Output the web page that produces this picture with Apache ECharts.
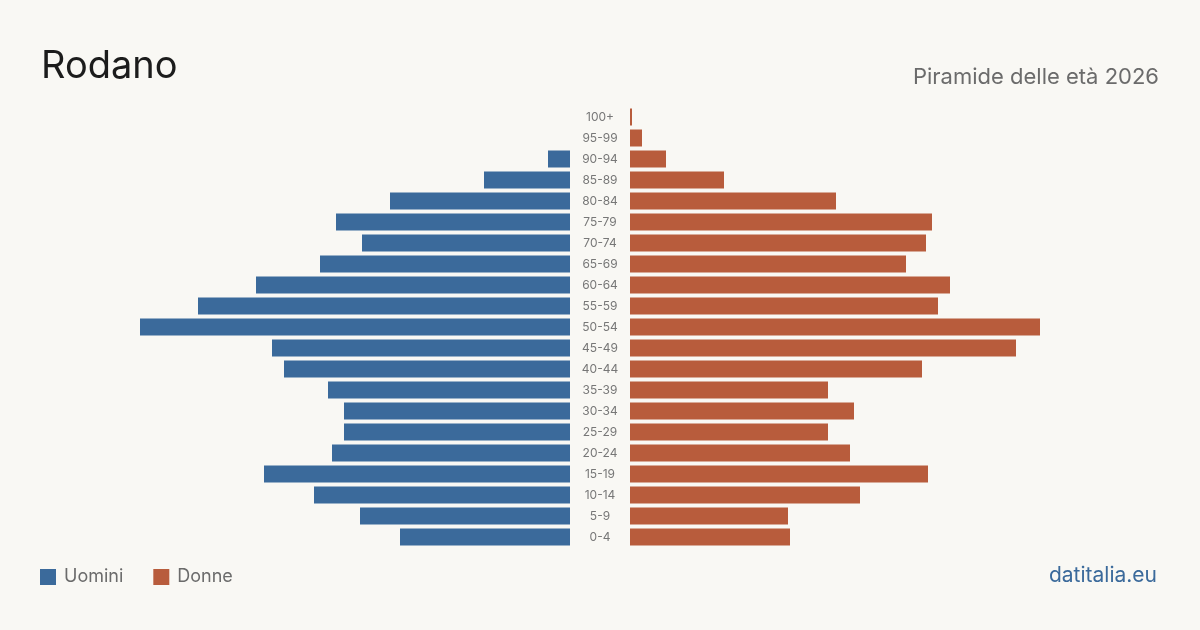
<!DOCTYPE html>
<html><head><meta charset="utf-8">
<script src="https://cdn.jsdelivr.net/npm/echarts@6/dist/echarts.min.js"></script>
<style>html,body{margin:0;padding:0;background:#f9f8f4}#c{width:1200px;height:630px}</style>
</head><body><div id="c"></div>
<script>
const ages = ["0-4","5-9","10-14","15-19","20-24","25-29","30-34","35-39","40-44","45-49","50-54","55-59","60-64","65-69","70-74","75-79","80-84","85-89","90-94","95-99","100+"];
const uomini = [85,105,128,153,119,113,113,121,143,149,215,186,157,125,104,117,90,43,11,0,0];
const donne  = [80,79,115,149,110,99,112,99,146,193,205,154,160,138,148,151,103,47,18,6,1];
const maxVal = 235;
const BLUE = '#3b6a9b', ORANGE = '#b85c3c';
const FONT = 'Inter, "Liberation Sans", sans-serif';
const chart = echarts.init(document.getElementById('c'), null, {renderer:'canvas'});
chart.setOption({
  backgroundColor:'#f9f8f4',
  animation:false,
  textStyle:{fontFamily:FONT},
  graphic:[
    {type:'text', left:41, top:48, style:{text:'Rodano', font:'38px '+FONT, fill:'#1c1c1c'}},
    {type:'text', right:41, top:66, style:{text:'Piramide delle età 2026', font:'22px '+FONT, fill:'#6b6b6b'}},
    {type:'text', right:43, top:565, style:{text:'datitalia.eu', font:'21px '+FONT, fill:BLUE}}
  ],
  legend:{left:35, top:563, itemWidth:16, itemHeight:16, itemGap:30, icon:'rect',
    textStyle:{fontSize:18, color:'#6b6b6b', fontFamily:FONT, padding:[0,0,0,3]},
    data:['Uomini','Donne']},
  grid:[
    {left:100, right:630, top:106.5, bottom:82.5},
    {left:630, right:100, top:106.5, bottom:82.5}
  ],
  xAxis:[
    {gridIndex:0, type:'value', min:0, max:maxVal, inverse:true, show:false},
    {gridIndex:1, type:'value', min:0, max:maxVal, show:false}
  ],
  yAxis:[
    {gridIndex:0, type:'category', data:ages, show:false},
    {gridIndex:1, type:'category', data:ages, axisLine:{show:false}, axisTick:{show:false},
     splitLine:{show:false},
     axisLabel:{align:'center', margin:30, fontSize:12, color:'#777', fontFamily:FONT}}
  ],
  series:[
    {name:'Uomini', type:'bar', xAxisIndex:0, yAxisIndex:0, data:uomini, barWidth:17, itemStyle:{color:BLUE}},
    {name:'Donne', type:'bar', xAxisIndex:1, yAxisIndex:1, data:donne, barWidth:17, itemStyle:{color:ORANGE}}
  ]
});
</script></body></html>
